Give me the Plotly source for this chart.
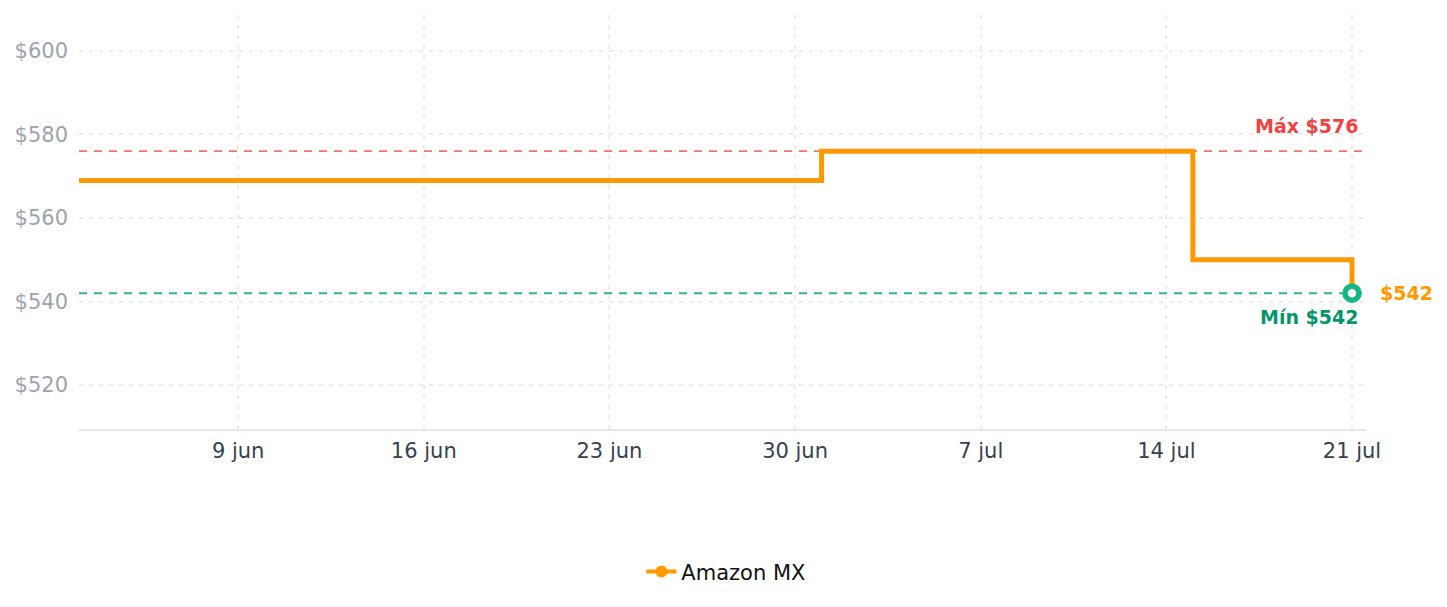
import plotly.graph_objects as go

# Data
dates = ["2025-06-03", "2025-07-01", "2025-07-15", "2025-07-21"]
prices = [569, 576, 550, 542]
series_name = "Amazon MX"
y_ticks = [520, 540, 560, 580, 600]
x_ticks = ["2025-06-09", "2025-06-16", "2025-06-23", "2025-06-30", "2025-07-07", "2025-07-14", "2025-07-21"]
x_tick_labels = ["9 jun", "16 jun", "23 jun", "30 jun", "7 jul", "14 jul", "21 jul"]

max_p = max(prices)
min_p = min(prices)
last_p = prices[-1]

ORANGE = "#ff9900"
GREEN = "#10b981"
FONT = "DejaVu Sans"
X_END = "2025-07-21 12:40"

fig = go.Figure()

# Max / Min reference lines
fig.add_trace(go.Scatter(
    x=[dates[0], X_END], y=[max_p, max_p], mode="lines",
    line=dict(color="#f87171", width=1.8, dash="8px,7px"), showlegend=False, hoverinfo="skip"))
fig.add_trace(go.Scatter(
    x=[dates[0], X_END], y=[min_p, min_p], mode="lines",
    line=dict(color="#34b38a", width=1.8, dash="8px,7px"), showlegend=False, hoverinfo="skip"))

# Main step line
fig.add_trace(go.Scatter(
    x=dates, y=prices, mode="lines", line=dict(color=ORANGE, width=5, shape="hv"),
    name=series_name, showlegend=False))

# Legend proxy
fig.add_trace(go.Scatter(
    x=[None], y=[None], mode="lines+markers", name=series_name,
    line=dict(color=ORANGE, width=4), marker=dict(color=ORANGE, size=12)))

# Last point marker
fig.add_trace(go.Scatter(
    x=[dates[-1]], y=[last_p], mode="markers",
    marker=dict(color="white", size=14, line=dict(color=GREEN, width=5.5)),
    showlegend=False))

fig.add_annotation(x=1.0, xref="paper", y=max_p, yref="y", xanchor="right", yanchor="bottom",
                   text=f"<b>Máx ${max_p}</b>", showarrow=False, yshift=12, xshift=-6,
                   font=dict(family=FONT, size=19, color="#ef4444"))
fig.add_annotation(x=1.0, xref="paper", y=min_p, yref="y", xanchor="right", yanchor="top",
                   text=f"<b>Mín ${min_p}</b>", showarrow=False, yshift=-11, xshift=-6,
                   font=dict(family=FONT, size=19, color="#059669"))
fig.add_annotation(x=dates[-1], xref="x", y=last_p, yref="y", xanchor="left", yanchor="middle",
                   text=f"<b>${last_p}</b>", showarrow=False, xshift=26,
                   font=dict(family=FONT, size=19, color=ORANGE))

fig.update_layout(
    width=1447, height=607,
    margin=dict(l=79, r=81, t=15, b=178),
    paper_bgcolor="white", plot_bgcolor="white",
    font=dict(family=FONT, size=21),
    showlegend=True,
    legend=dict(orientation="h", x=0.503, xanchor="center", y=-0.345, yanchor="middle",
                font=dict(family=FONT, size=21, color="#111111")),
    xaxis=dict(
        type="date", range=[dates[0], X_END],
        tickvals=x_ticks, ticktext=x_tick_labels,
        showgrid=True, gridcolor="#ececec", griddash="4px,6px", gridwidth=2,
        showline=True, linecolor="#e5e7eb", linewidth=1.5,
        tickfont=dict(family=FONT, size=21, color="#374151"),
        ticks="", ticklabelstandoff=2, zeroline=False),
    yaxis=dict(
        range=[509.5, 608.6],
        tickvals=y_ticks, ticktext=[f"${v}" for v in y_ticks],
        showgrid=True, gridcolor="#ececec", griddash="4px,6px", gridwidth=2,
        showline=False, zeroline=False, ticks="", ticklabelstandoff=10,
        tickfont=dict(family=FONT, size=21, color="#9ca3af")),
)

fig.write_html("out.html")
